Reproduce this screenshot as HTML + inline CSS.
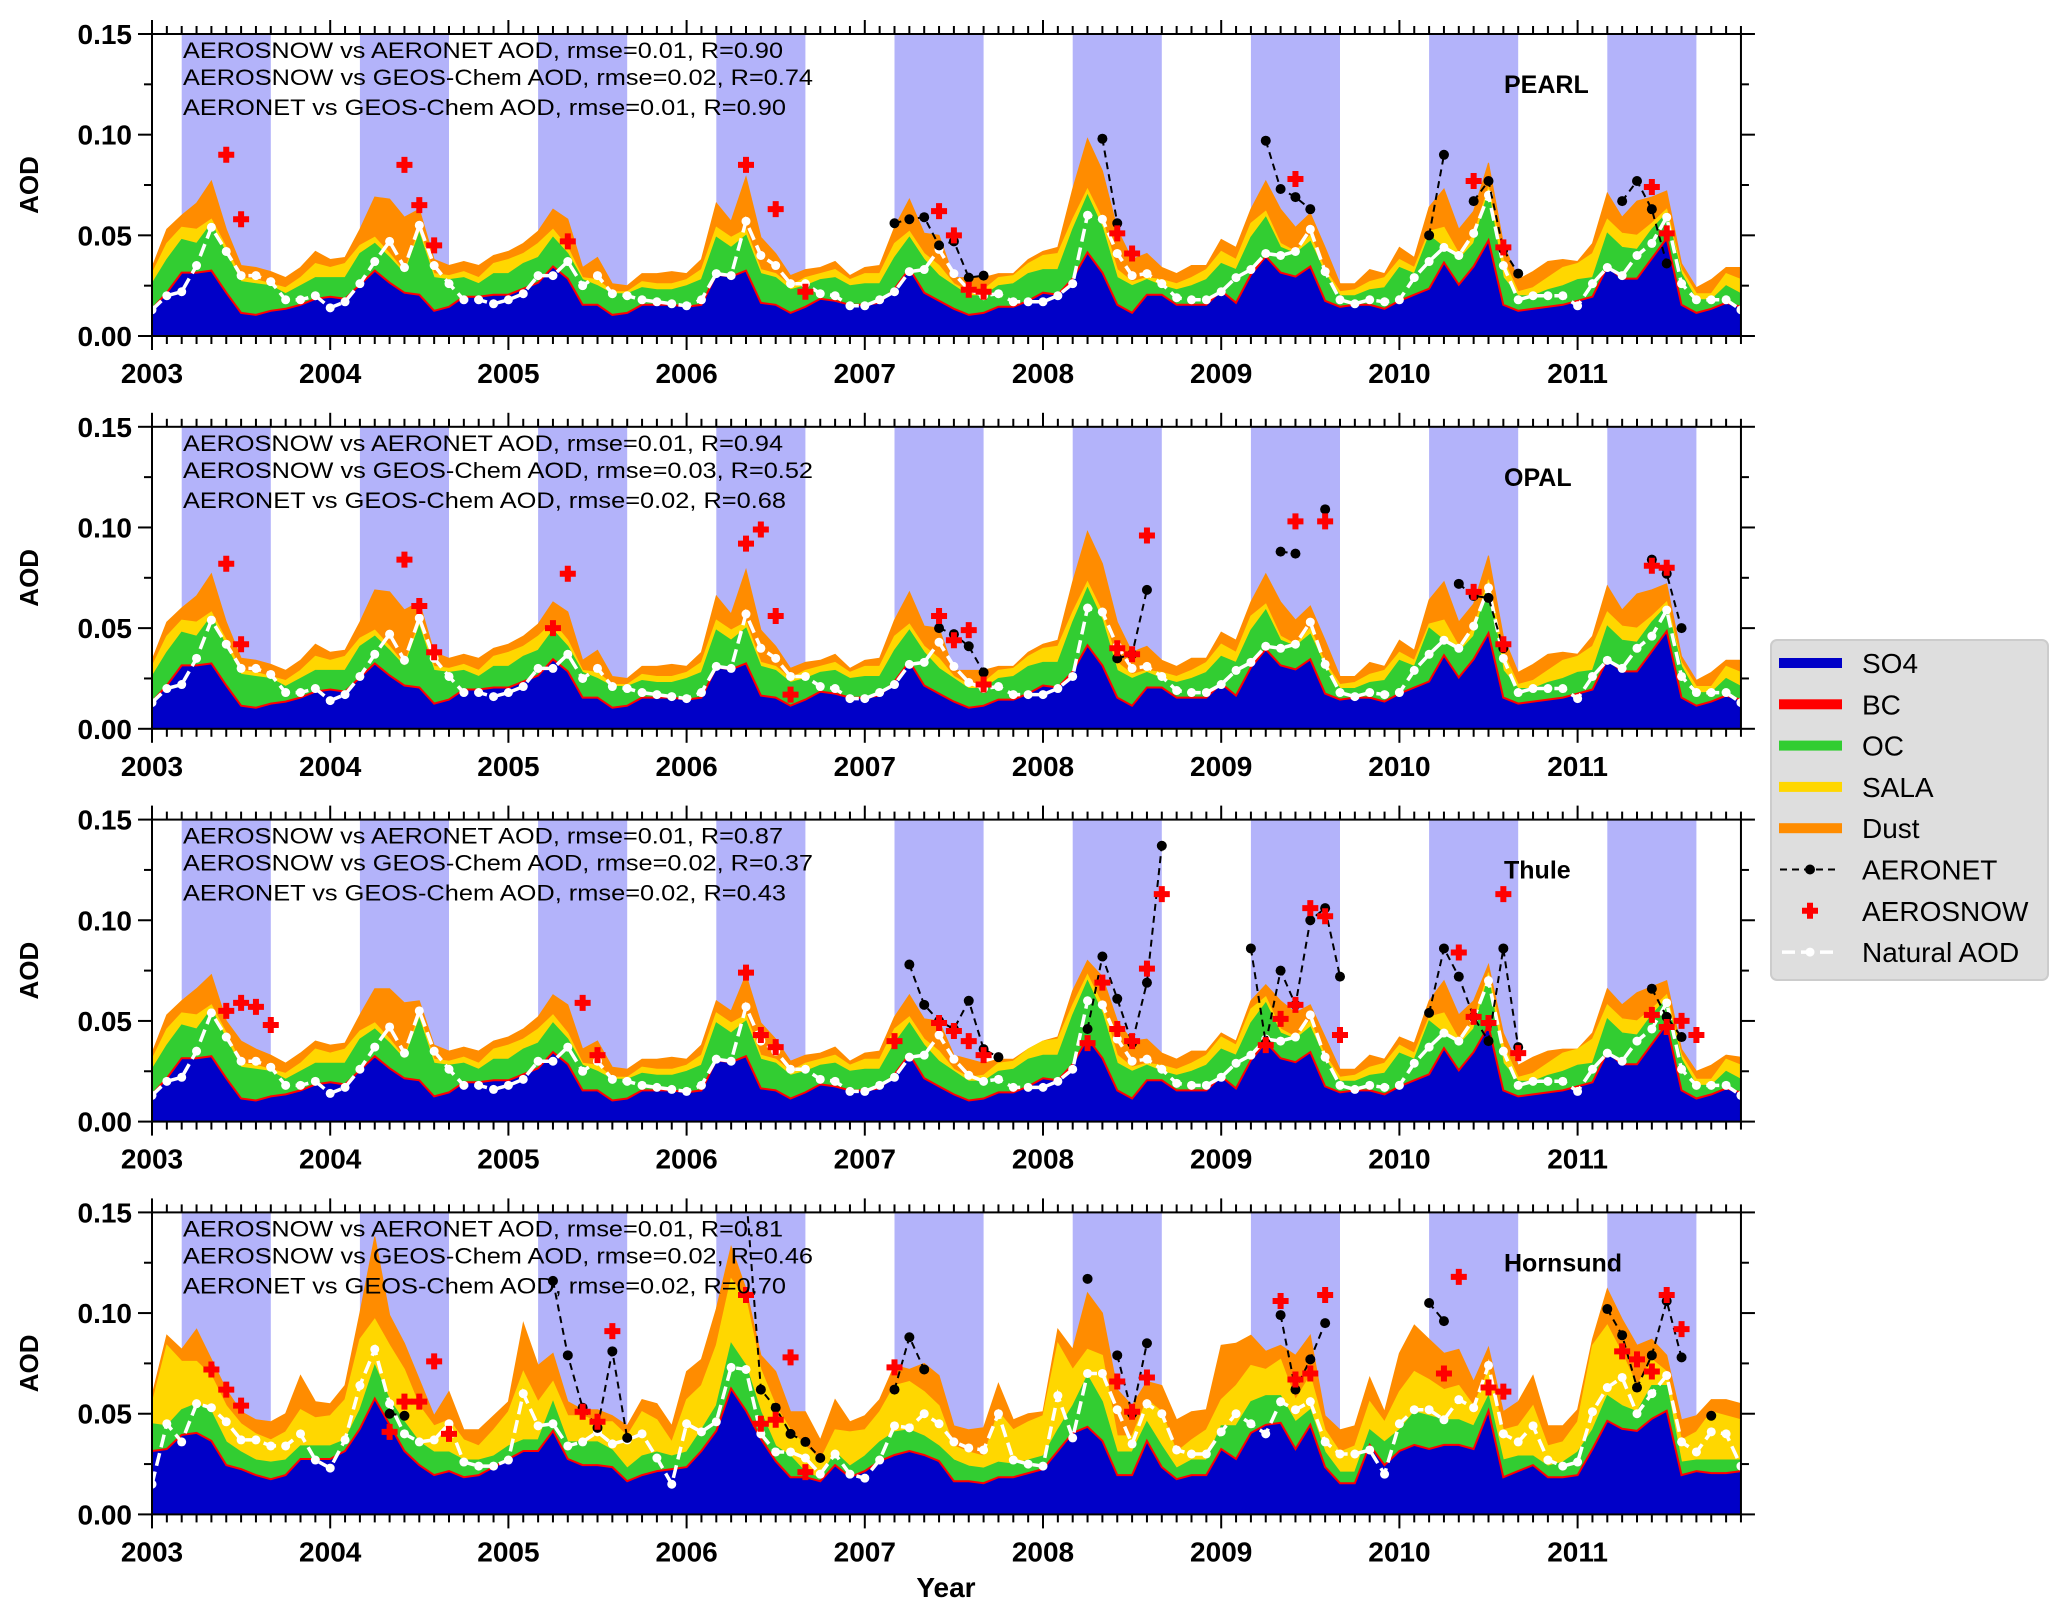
<!DOCTYPE html>
<html><head><meta charset="utf-8"><style>
html,body{margin:0;padding:0;background:#fff;}
svg{display:block;font-family:"Liberation Sans","DejaVu Sans",sans-serif;}
</style></head><body>
<svg id="chart" width="2067" height="1616" viewBox="0 0 2067 1616" xmlns="http://www.w3.org/2000/svg"></svg>
<script>
// ---------- data ----------
const yearLabels = ["2003","2004","2005","2006","2007","2008","2009","2010","2011"];
const yTickLabels = ["0.00","0.05","0.10","0.15"];
const yTickValues = [0,0.05,0.10,0.15];
const stationNames = ["PEARL","OPAL","Thule","Hornsund"];
const statsText = [
 ["AEROSNOW vs AERONET AOD, rmse=0.01, R=0.90","AEROSNOW vs GEOS-Chem AOD, rmse=0.02, R=0.74","AERONET vs GEOS-Chem AOD, rmse=0.01, R=0.90"],
 ["AEROSNOW vs AERONET AOD, rmse=0.01, R=0.94","AEROSNOW vs GEOS-Chem AOD, rmse=0.03, R=0.52","AERONET vs GEOS-Chem AOD, rmse=0.02, R=0.68"],
 ["AEROSNOW vs AERONET AOD, rmse=0.01, R=0.87","AEROSNOW vs GEOS-Chem AOD, rmse=0.02, R=0.37","AERONET vs GEOS-Chem AOD, rmse=0.02, R=0.43"],
 ["AEROSNOW vs AERONET AOD, rmse=0.01, R=0.81","AEROSNOW vs GEOS-Chem AOD, rmse=0.02, R=0.46","AERONET vs GEOS-Chem AOD, rmse=0.02, R=0.70"]
];
// cumulative stack tops (SO4, +OC, +SALA, +Dust), monthly Jan 2003..Dec 2011
const so4A = [.013,.021,.031,.031,.032,.021,.011,.010,.012,.013,.015,.018,
 .019,.018,.025,.032,.026,.021,.020,.012,.014,.019,.019,.020,
 .020,.023,.026,.034,.028,.015,.015,.010,.011,.015,.015,.015,
 .014,.015,.030,.029,.032,.016,.015,.011,.014,.018,.017,.015,
 .015,.016,.023,.033,.021,.017,.013,.010,.011,.014,.014,.017,
 .021,.020,.028,.041,.031,.015,.011,.020,.020,.015,.015,.015,
 .022,.016,.030,.039,.031,.029,.034,.017,.014,.015,.015,.013,
 .017,.020,.023,.036,.025,.034,.047,.015,.012,.013,.014,.015,
 .017,.019,.034,.028,.028,.038,.048,.015,.011,.013,.016,.014];
const ocA = [.026,.038,.048,.046,.056,.041,.027,.026,.025,.021,.025,.029,
 .029,.029,.041,.046,.039,.031,.051,.029,.028,.029,.026,.031,
 .031,.036,.039,.049,.041,.028,.025,.021,.021,.024,.023,.023,
 .025,.028,.049,.044,.050,.031,.029,.023,.025,.028,.029,.025,
 .026,.026,.039,.049,.038,.030,.025,.020,.020,.025,.026,.031,
 .033,.033,.053,.070,.054,.029,.025,.028,.025,.023,.025,.028,
 .036,.033,.049,.059,.044,.041,.047,.031,.020,.020,.023,.024,
 .034,.031,.050,.044,.038,.046,.072,.029,.020,.020,.023,.025,
 .028,.029,.051,.044,.043,.053,.061,.031,.018,.018,.025,.021];
const salaA = [.031,.046,.054,.053,.058,.044,.029,.028,.026,.024,.029,.036,
 .034,.036,.045,.049,.041,.032,.053,.031,.030,.032,.029,.036,
 .038,.041,.046,.053,.044,.029,.028,.022,.022,.027,.026,.026,
 .028,.033,.054,.049,.053,.033,.031,.025,.029,.031,.033,.028,
 .031,.031,.046,.052,.041,.035,.026,.022,.023,.029,.030,.036,
 .040,.041,.058,.073,.058,.033,.027,.029,.028,.026,.029,.033,
 .042,.038,.056,.062,.046,.042,.050,.033,.022,.023,.027,.029,
 .038,.034,.052,.054,.041,.050,.074,.038,.022,.024,.029,.034,
 .036,.041,.058,.051,.050,.056,.063,.033,.021,.021,.031,.028];
const dustA = [.034,.053,.060,.066,.077,.053,.035,.034,.032,.029,.034,.042,
 .038,.039,.053,.069,.068,.059,.063,.038,.035,.037,.035,.040,
 .042,.046,.052,.063,.058,.034,.039,.026,.025,.031,.031,.032,
 .031,.038,.066,.057,.079,.049,.041,.030,.033,.034,.037,.030,
 .034,.035,.054,.068,.051,.050,.029,.029,.029,.031,.031,.038,
 .042,.044,.073,.098,.082,.053,.038,.041,.034,.031,.035,.035,
 .048,.044,.063,.077,.063,.054,.061,.044,.026,.026,.033,.031,
 .044,.039,.064,.073,.053,.062,.086,.046,.028,.032,.037,.038,
 .037,.046,.071,.059,.067,.069,.072,.036,.024,.028,.034,.034];
const dustThule = [.034,.053,.060,.066,.073,.050,.040,.036,.033,.029,.034,.040,
 .038,.039,.053,.066,.066,.059,.060,.038,.035,.037,.035,.040,
 .042,.046,.052,.063,.058,.036,.040,.027,.026,.031,.031,.032,
 .031,.038,.060,.055,.073,.049,.041,.030,.033,.034,.037,.030,
 .034,.035,.052,.063,.051,.050,.033,.031,.029,.031,.031,.036,
 .040,.042,.065,.080,.072,.050,.040,.041,.034,.031,.035,.035,
 .044,.040,.060,.068,.060,.054,.058,.042,.026,.026,.033,.031,
 .042,.039,.060,.070,.053,.060,.078,.044,.028,.032,.035,.036,
 .036,.044,.066,.058,.064,.067,.070,.036,.025,.028,.033,.032];
const naturalA = [.013,.020,.022,.035,.054,.042,.030,.030,.027,.018,.018,.020,
 .014,.017,.026,.037,.047,.034,.055,.035,.026,.018,.018,.016,
 .018,.021,.030,.030,.037,.025,.030,.021,.020,.018,.017,.016,
 .015,.018,.031,.030,.057,.040,.035,.026,.026,.021,.020,.015,
 .015,.018,.022,.032,.033,.043,.031,.023,.020,.021,.017,.017,
 .017,.020,.026,.060,.058,.041,.030,.031,.026,.019,.018,.018,
 .022,.029,.033,.041,.040,.042,.053,.032,.018,.016,.018,.017,
 .018,.029,.037,.044,.040,.051,.070,.035,.018,.020,.020,.020,
 .015,.026,.034,.030,.040,.046,.059,.026,.018,.018,.018,.013];
const so4H = [.031,.032,.039,.040,.036,.024,.022,.019,.017,.019,.027,.027,
 .027,.031,.042,.057,.044,.031,.024,.019,.021,.018,.019,.023,
 .027,.031,.031,.041,.027,.024,.024,.023,.016,.019,.021,.022,
 .023,.031,.041,.062,.051,.037,.026,.018,.018,.016,.024,.018,
 .021,.026,.029,.031,.029,.026,.016,.016,.015,.018,.018,.020,
 .022,.031,.040,.043,.036,.019,.019,.036,.023,.017,.019,.019,
 .032,.027,.040,.044,.045,.032,.044,.023,.015,.015,.034,.024,
 .031,.034,.032,.034,.034,.032,.051,.018,.021,.024,.018,.018,
 .019,.032,.046,.042,.041,.047,.051,.019,.021,.020,.020,.021];
const ocH = [.045,.044,.052,.055,.051,.036,.031,.027,.026,.027,.034,.034,
 .034,.037,.052,.074,.057,.046,.036,.031,.031,.027,.027,.029,
 .034,.037,.037,.056,.036,.036,.036,.032,.023,.029,.031,.029,
 .031,.042,.054,.085,.074,.051,.034,.029,.021,.018,.031,.024,
 .029,.036,.041,.042,.039,.034,.027,.024,.023,.026,.025,.027,
 .029,.042,.054,.069,.056,.031,.031,.046,.034,.023,.027,.027,
 .044,.044,.056,.059,.059,.046,.052,.031,.021,.021,.042,.036,
 .042,.051,.049,.047,.047,.044,.059,.027,.029,.029,.024,.026,
 .031,.042,.059,.054,.051,.064,.064,.026,.027,.027,.027,.027];
const salaH = [.055,.084,.076,.076,.069,.054,.045,.040,.037,.041,.052,.048,
 .049,.057,.087,.097,.084,.072,.054,.044,.047,.037,.034,.042,
 .051,.071,.056,.066,.049,.049,.046,.046,.039,.051,.047,.036,
 .057,.064,.084,.117,.107,.072,.054,.042,.034,.027,.042,.041,
 .042,.051,.064,.066,.061,.054,.034,.031,.029,.051,.042,.046,
 .049,.085,.072,.082,.079,.039,.039,.057,.051,.031,.037,.042,
 .057,.064,.074,.072,.077,.057,.069,.042,.031,.034,.056,.046,
 .061,.071,.067,.062,.064,.054,.072,.042,.044,.054,.034,.036,
 .046,.084,.094,.080,.064,.077,.071,.037,.041,.051,.049,.047];
const dustH = [.059,.089,.082,.092,.077,.062,.051,.047,.046,.050,.069,.056,
 .055,.064,.100,.138,.099,.085,.067,.049,.061,.042,.042,.049,
 .056,.095,.074,.080,.056,.052,.052,.049,.044,.057,.055,.044,
 .071,.077,.102,.133,.112,.079,.071,.051,.051,.037,.057,.046,
 .049,.057,.074,.072,.075,.069,.044,.042,.043,.065,.047,.050,
 .051,.092,.082,.110,.100,.062,.054,.066,.064,.047,.051,.052,
 .084,.085,.089,.081,.084,.079,.089,.049,.042,.044,.068,.051,
 .080,.094,.087,.080,.082,.066,.083,.051,.056,.069,.044,.044,
 .052,.087,.112,.097,.084,.087,.079,.047,.049,.057,.057,.055];
const naturalH = [.015,.045,.036,.055,.053,.046,.037,.037,.034,.034,.040,.027,
 .023,.037,.064,.082,.055,.040,.036,.037,.045,.026,.024,.024,
 .027,.060,.044,.045,.034,.036,.041,.035,.037,.040,.028,.015,
 .045,.041,.046,.073,.072,.040,.031,.031,.028,.020,.030,.020,
 .018,.027,.044,.043,.050,.045,.036,.033,.032,.050,.027,.025,
 .024,.059,.038,.070,.070,.052,.035,.055,.050,.032,.030,.030,
 .041,.050,.045,.040,.056,.052,.056,.036,.030,.030,.032,.020,
 .045,.052,.052,.047,.057,.053,.074,.040,.036,.044,.027,.024,
 .026,.051,.063,.068,.050,.060,.069,.036,.031,.041,.040,.024];
// AERONET points (month index, AOD)
const aeronetM1 = [50,51,52,53,54,55,56,64,65,75,76,77,78,86,87,89,90,91,92,99,100,101,102];
const aeronetV1 = [.056,.058,.059,.045,.047,.029,.030,.098,.056,.097,.073,.069,.063,.050,.090,.067,.077,.043,.031,.067,.077,.063,.036];
const aeronetM2 = [53,54,55,56,65,66,67,76,77,79,88,89,90,91,101,102,103];
const aeronetV2 = [.050,.047,.041,.028,.035,.037,.069,.088,.087,.109,.072,.066,.065,.040,.084,.077,.050];
const aeronetM3 = [51,52,53,54,55,56,57,63,64,65,66,67,68,74,75,76,77,78,79,80,86,87,88,89,90,91,92,101,102,103];
const aeronetV3 = [.078,.058,.050,.046,.060,.036,.032,.046,.082,.061,.039,.069,.137,.086,.039,.075,.058,.100,.106,.072,.054,.086,.072,.052,.040,.086,.037,.066,.052,.042];
const aeronetM4 = [16,17,27,28,29,30,31,32,40,41,42,43,44,45,50,51,52,63,65,66,67,76,77,78,79,86,87,98,99,100,101,102,103,105];
const aeronetV4 = [.050,.049,.116,.079,.053,.043,.081,.038,.160,.062,.053,.040,.036,.028,.062,.088,.072,.117,.079,.050,.085,.099,.062,.077,.095,.105,.096,.102,.089,.063,.079,.106,.078,.049];
// AEROSNOW points
const snowM1 = [5,6,17,18,19,28,40,42,44,53,54,55,56,65,66,77,89,91,101,102];
const snowV1 = [.090,.058,.085,.065,.045,.047,.085,.063,.022,.062,.050,.023,.022,.051,.041,.078,.077,.044,.074,.051];
const snowM2 = [5,6,17,18,19,27,28,40,41,42,43,53,54,55,56,65,66,67,77,79,89,91,101,102];
const snowV2 = [.082,.042,.084,.061,.038,.050,.077,.092,.099,.056,.017,.056,.044,.049,.022,.040,.037,.096,.103,.103,.068,.042,.081,.080];
const snowM3 = [5,6,7,8,29,30,40,41,42,50,53,54,55,56,63,64,65,66,67,68,75,76,77,78,79,80,88,89,90,91,92,101,102,103,104];
const snowV3 = [.055,.059,.057,.048,.059,.033,.074,.043,.037,.040,.049,.045,.040,.033,.039,.069,.046,.040,.076,.113,.038,.051,.058,.106,.102,.043,.084,.052,.049,.113,.034,.053,.047,.050,.043];
const snowM4 = [4,5,6,16,17,18,19,20,29,30,31,40,41,42,43,44,50,65,66,67,76,77,78,79,87,88,90,91,99,100,101,102,103];
const snowV4 = [.072,.062,.054,.041,.056,.056,.076,.040,.051,.046,.091,.109,.045,.047,.078,.021,.073,.066,.051,.068,.106,.067,.070,.109,.070,.118,.063,.061,.081,.077,.071,.109,.092];
const legendLabels = ["SO4","BC","OC","SALA","Dust","AERONET","AEROSNOW","Natural AOD"];

const panels = [
 {so4:so4A, oc:ocA, sala:salaA, dust:dustA, nat:naturalA, am:aeronetM1, av:aeronetV1, sm:snowM1, sv:snowV1},
 {so4:so4A, oc:ocA, sala:salaA, dust:dustA, nat:naturalA, am:aeronetM2, av:aeronetV2, sm:snowM2, sv:snowV2},
 {so4:so4A, oc:ocA, sala:salaA, dust:dustThule, nat:naturalA, am:aeronetM3, av:aeronetV3, sm:snowM3, sv:snowV3},
 {so4:so4H, oc:ocH, sala:salaH, dust:dustH, nat:naturalH, am:aeronetM4, av:aeronetV4, sm:snowM4, sv:snowV4}
];

// ---------- drawing ----------
const NS = "http://www.w3.org/2000/svg";
const svg = document.getElementById("chart");
const X0 = 152, MW = 14.85, PH = 302, TOP0 = 34, STEP = 392.8, VMAX = 0.15;
function xM(m){ return X0 + m*MW; }
function yV(p, v){ return TOP0 + p*STEP + PH - v/VMAX*PH; }
function mk(tag, attrs, parent){
  const e = document.createElementNS(NS, tag);
  for (const k in attrs) e.setAttribute(k, attrs[k]);
  (parent||svg).appendChild(e);
  return e;
}
const defs = mk("defs", {});

panels.forEach((P, p) => {
  const g = mk("g", {});
  
  
  const top = TOP0 + p*STEP, bot = top + PH, right = xM(107);
  const cp = mk("clipPath", {id:"clip"+p}, defs);
  mk("rect", {x:X0, y:top, width:right-X0, height:PH}, cp);
  const plot = mk("g", {"clip-path":"url(#clip"+p+")"}, g);
  
  
  // season bands Mar-Sep
  for (let yr = 0; yr < 9; yr++) {
    const b = mk("rect", {x:xM(yr*12+2), y:top, width:6*MW, height:PH, fill:"#b3b3fa"}, plot);
    
    
  }
  // stacked areas
  const layers = [[P.dust,"#ff8c00","dust-area"],[P.sala,"#ffd700","sala-area"],[P.oc,"#32cd32","oc-area"],[P.so4,"#0000c8","so4-area"]];
  layers.forEach(L => {
    let d = "M" + xM(0) + "," + yV(p,0);
    L[0].forEach((v,m) => { d += " L" + xM(m).toFixed(1) + "," + yV(p,v).toFixed(1); });
    d += " L" + xM(107) + "," + yV(p,0) + " Z";
    const a = mk("path", {d:d, fill:L[1], stroke:L[1], "stroke-width":1}, plot);
    
    
  });
  // BC thin line atop SO4
  const bcPts = P.so4.map((v,m) => xM(m).toFixed(1)+","+(yV(p,v)-1).toFixed(1)).join(" ");
  const bc = mk("polyline", {points:bcPts, fill:"none", stroke:"#ff0000", "stroke-width":2}, plot);
  
  
  // natural AOD
  const natPts = P.nat.map((v,m) => xM(m).toFixed(1)+","+yV(p,v).toFixed(1)).join(" ");
  const nl = mk("polyline", {points:natPts, fill:"none", stroke:"#fff", "stroke-width":3.5, "stroke-dasharray":"13,6"}, plot);
  
  
  P.nat.forEach((v,m) => {
    const c = mk("circle", {cx:xM(m), cy:yV(p,v), r:4.5, fill:"#fff"}, plot);
    
    
  });
  // AERONET dashed segments (break on gaps)
  let seg = [];
  const flush = () => {
    if (seg.length > 1) {
      const l = mk("polyline", {points:seg.join(" "), fill:"none", stroke:"#000", "stroke-width":2, "stroke-dasharray":"7,5"}, plot);
      
      
    }
    seg = [];
  };
  P.am.forEach((m,i) => {
    if (i > 0 && m - P.am[i-1] > 1) flush();
    seg.push(xM(m).toFixed(1)+","+yV(p,P.av[i]).toFixed(1));
  });
  flush();
  P.am.forEach((m,i) => {
    const c = mk("circle", {cx:xM(m), cy:yV(p,P.av[i]), r:5, fill:"#000"}, plot);
    
    
  });
  // AEROSNOW plus markers
  P.sm.forEach((m,i) => {
    const cx = xM(m), cy = yV(p,P.sv[i]), s = 8, w = 3;
    const d = `M${cx-w},${cy-s} H${cx+w} V${cy-w} H${cx+s} V${cy+w} H${cx+w} V${cy+s} H${cx-w} V${cy+w} H${cx-s} V${cy-w} H${cx-w} Z`;
    const pl = mk("path", {d:d, fill:"#ff0000"}, plot);
    
    
  });
  // spines
  const fr = mk("rect", {x:X0, y:top, width:right-X0, height:PH, fill:"none", stroke:"#000", "stroke-width":2}, g);
  
  
  // x ticks
  for (let m = 0; m <= 107; m++) {
    const major = m % 12 === 0, len = major ? 14 : 8, x = xM(m);
    mk("line", {x1:x, y1:bot, x2:x, y2:bot+len, stroke:"#000", "stroke-width":2}, g);
    mk("line", {x1:x, y1:top, x2:x, y2:top-len, stroke:"#000", "stroke-width":2}, g);
  }
  yearLabels.forEach((t,i) => {
    const tx = mk("text", {x:xM(i*12), y:bot+47, "text-anchor":"middle", "font-size":28, "font-weight":"bold"}, g);
    tx.textContent = t;
    
    
  });
  // y ticks
  for (let k = 0; k <= 6; k++) {
    const v = k*0.025, y = yV(p,v), len = k % 2 === 0 ? 14 : 8;
    mk("line", {x1:X0, y1:y, x2:X0-len, y2:y, stroke:"#000", "stroke-width":2}, g);
    mk("line", {x1:right, y1:y, x2:right+len, y2:y, stroke:"#000", "stroke-width":2}, g);
  }
  yTickValues.forEach((v,i) => {
    const tx = mk("text", {x:X0-20, y:yV(p,v)+10, "text-anchor":"end", "font-size":28, "font-weight":"bold"}, g);
    tx.textContent = yTickLabels[i];
    
    
  });
  const yl = mk("text", {x:0, y:0, "text-anchor":"middle", "font-size":26, "font-weight":"bold", transform:`translate(38,${top+PH/2}) rotate(-90)`}, g);
  yl.textContent = "AOD";
  
  
  // stats annotations
  const lens = [600, 630, 603], offs = [24, 51, 81];
  statsText[p].forEach((t,i) => {
    const tx = mk("text", {x:183, y:top+offs[i], "font-size":22, textLength:lens[i], lengthAdjust:"spacingAndGlyphs"}, g);
    tx.textContent = t;
    
    
  });
  const st = mk("text", {x:1504, y:top+59, "font-size":25, "font-weight":"bold"}, g);
  st.textContent = stationNames[p];
  
  
});

const xt = mk("text", {x:946, y:1597, "text-anchor":"middle", "font-size":28, "font-weight":"bold"});
xt.textContent = "Year";



// legend
const lg = mk("g", {});


mk("rect", {x:1771, y:640, width:277, height:340, rx:6, fill:"#dedede", stroke:"#cccccc", "stroke-width":2}, lg);
const legendColors = ["#0000c8","#ff0000","#32cd32","#ffd700","#ff8c00"];
legendLabels.forEach((t,i) => {
  const y = 663 + i*41.3;
  const e = mk("g", {}, lg);
  
  
  if (i < 5) {
    mk("rect", {x:1779, y:y-5, width:63, height:10, fill:legendColors[i]}, e);
  } else if (i === 5) {
    mk("line", {x1:1780, y1:y, x2:1840, y2:y, stroke:"#000", "stroke-width":2, "stroke-dasharray":"7,5"}, e);
    mk("circle", {cx:1810, cy:y, r:5, fill:"#000"}, e);
  } else if (i === 6) {
    const cx = 1810, cy = y, s = 8, w = 3;
    mk("path", {d:`M${cx-w},${cy-s} H${cx+w} V${cy-w} H${cx+s} V${cy+w} H${cx+w} V${cy+s} H${cx-w} V${cy+w} H${cx-s} V${cy-w} H${cx-w} Z`, fill:"#ff0000"}, e);
  } else {
    mk("line", {x1:1782, y1:y, x2:1838, y2:y, stroke:"#fff", "stroke-width":3.5, "stroke-dasharray":"13,6"}, e);
    mk("circle", {cx:1810, cy:y, r:4.5, fill:"#fff"}, e);
  }
  const tx = mk("text", {x:1862, y:y+10, "font-size":28}, e);
  tx.textContent = t;
});
</script>
</body></html>
